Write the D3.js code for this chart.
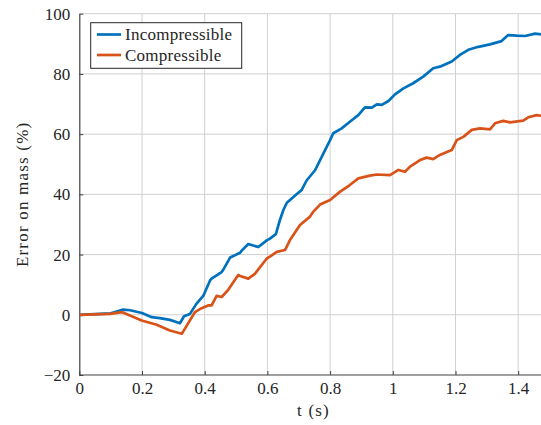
<!DOCTYPE html>
<html>
<head>
<meta charset="utf-8">
<script src="https://cdn.jsdelivr.net/npm/d3@7"></script>
<style>
  html, body { margin: 0; padding: 0; background: #fff; }
  svg { display: block; }
</style>
</head>
<body>
<svg id="chart" width="541" height="425"></svg>
<script>
// Time stamps (s) and mass error (%) for each model
const tIncompressible = [0, 0.1, 0.114, 0.14, 0.162, 0.2, 0.231, 0.257, 0.289, 0.321, 0.334, 0.353,
  0.374, 0.396, 0.417, 0.422, 0.454, 0.459, 0.481, 0.513, 0.518, 0.539, 0.571, 0.598, 0.608, 0.627,
  0.64, 0.651, 0.662, 0.693, 0.709, 0.725, 0.752, 0.784, 0.8, 0.81, 0.837, 0.863, 0.89, 0.911, 0.933,
  0.949, 0.965, 0.986, 1.007, 1.034, 1.065, 1.097, 1.129, 1.15, 1.188, 1.214, 1.241, 1.273, 1.31,
  1.347, 1.368, 1.395, 1.422, 1.454, 1.48];
const incompressible = [0, 0.5, 0.9, 1.7, 1.5, 0.6, -0.8, -1.1, -1.7, -2.8, -0.5, 0.3,
  3.7, 6.4, 11.4, 12.0, 14.2, 14.9, 19.0, 20.6, 21.3, 23.5, 22.5, 24.7, 25.3, 26.8,
  31.5, 34.8, 37.2, 40.0, 41.4, 44.6, 48.0, 54.7, 58.0, 60.3, 61.9, 64.1, 66.3, 68.9, 68.8,
  69.9, 69.7, 71.0, 73.2, 75.2, 76.9, 79.1, 81.9, 82.4, 84.1, 86.3, 88.0, 89.0, 89.8,
  90.9, 92.9, 92.7, 92.6, 93.4, 93.0];

const tCompressible = [0, 0.098, 0.135, 0.156, 0.199, 0.247, 0.289, 0.327, 0.337, 0.369, 0.39,
  0.411, 0.422, 0.438, 0.454, 0.475, 0.507, 0.513, 0.539, 0.56, 0.598, 0.608, 0.63, 0.656, 0.672,
  0.704, 0.736, 0.746, 0.768, 0.8, 0.832, 0.863, 0.89, 0.927, 0.949, 0.991, 1.018, 1.039, 1.055,
  1.087, 1.108, 1.129, 1.15, 1.188, 1.204, 1.225, 1.252, 1.278, 1.31, 1.326, 1.352, 1.374, 1.416,
  1.432, 1.459, 1.48];
const compressible = [0, 0.3, 0.9, 0, -1.9, -3.3, -5.2, -6.3, -4.6, 0.9, 2.2,
  3.1, 3.1, 6.3, 5.9, 8.3, 13.2, 12.9, 12.0, 13.6, 18.7, 19.3, 20.9, 21.5, 24.8,
  29.8, 32.6, 34.2, 36.6, 38.1, 40.9, 43.1, 45.3, 46.2, 46.6, 46.4, 48.1, 47.5, 49.2,
  51.4, 52.2, 51.7, 53.1, 54.7, 58.0, 59.1, 61.4, 61.9, 61.6, 63.6, 64.4, 63.9, 64.5,
  65.6, 66.3, 66.0];

const xTicks = [0, 0.2, 0.4, 0.6, 0.8, 1, 1.2, 1.4];
const xTickLabels = ["0", "0.2", "0.4", "0.6", "0.8", "1", "1.2", "1.4"];
const yTicks = [-20, 0, 20, 40, 60, 80, 100];
const yTickLabels = ["\u221220", "0", "20", "40", "60", "80", "100"];

const seriesNames = ["Incompressible", "Compressible"];
const seriesColors = ["#0072BD", "#D95319"];

const FONT = "'Liberation Serif', 'Times New Roman', serif";
const TEXT_COLOR = "#262626";

const svg = d3.select("#chart");
const plotLeft = 79.3, plotTop = 13.7, plotBottom = 375, plotRight = 541;
const x = d3.scaleLinear().domain([0, 1.5]).range([plotLeft, plotLeft + 313.5 * 1.5]);
const y = d3.scaleLinear().domain([-20, 100]).range([plotBottom, plotTop]);

// clip region for the plot area
svg.append("clipPath").attr("id", "plotClip")
  .append("rect").attr("x", plotLeft).attr("y", plotTop - 2)
  .attr("width", plotRight - plotLeft).attr("height", plotBottom - plotTop + 4);

// grid
const grid = svg.append("g");
grid.selectAll("line.gx").data(xTicks.filter(d => d > 0)).enter().append("line")
  .attr("x1", d => x(d)).attr("x2", d => x(d)).attr("y1", plotTop).attr("y2", plotBottom)
  .attr("stroke", "#d0d0d0").attr("stroke-width", 1);
grid.selectAll("line.gy").data(yTicks.filter(d => d > -20)).enter().append("line")
  .attr("x1", plotLeft).attr("x2", plotRight).attr("y1", d => y(d)).attr("y2", d => y(d))
  .attr("stroke", "#d0d0d0").attr("stroke-width", 1);

// axes
const xAxis = d3.axisBottom(x).tickValues(xTicks).tickSizeInner(-4).tickSizeOuter(0)
  .tickPadding(10).tickFormat((d, i) => xTickLabels[i]);
const gx = svg.append("g").attr("transform", `translate(0,${plotBottom})`).call(xAxis);
gx.select(".domain").attr("d", `M${plotLeft},0H${plotRight}`);

const yAxis = d3.axisLeft(y).tickValues(yTicks).tickSizeInner(-4).tickSizeOuter(0)
  .tickPadding(9).tickFormat((d, i) => yTickLabels[i]);
const gy = svg.append("g").attr("transform", `translate(${plotLeft},0)`).call(yAxis);

[gx, gy].forEach(g => {
  g.select(".domain").attr("stroke", "#404040").attr("stroke-width", 1.2);
  g.selectAll(".tick line").attr("stroke", "#404040");
  g.selectAll(".tick text").style("font-family", FONT)
    .style("font-size", "17px").style("fill", TEXT_COLOR);
});
gx.selectAll(".tick text").attr("dy", "0.5em");

// lines
const line = d3.line().x(d => x(d[0])).y(d => y(d[1]));
const plot = svg.append("g").attr("clip-path", "url(#plotClip)");
const seriesData = [
  d3.zip(tIncompressible, incompressible),
  d3.zip(tCompressible, compressible)
];
seriesData.forEach((data, i) => {
  plot.append("path").datum(data).attr("d", line)
    .attr("fill", "none").attr("stroke", seriesColors[i])
    .attr("stroke-width", 2.7).attr("stroke-linejoin", "round");
});

// axis titles
svg.append("text").attr("x", 313.5).attr("y", 416)
  .attr("text-anchor", "middle")
  .style("font-family", FONT).style("font-size", "17px").style("fill", TEXT_COLOR)
  .attr("letter-spacing", 1.2).text("t (s)");
svg.append("text").attr("transform", `translate(28,${(plotTop + plotBottom) / 2}) rotate(-90)`)
  .attr("text-anchor", "middle")
  .style("font-family", FONT).style("font-size", "17px").style("fill", TEXT_COLOR)
  .attr("letter-spacing", 1.2).text("Error on mass (%)");

// legend
const lg = svg.append("g");
lg.append("rect").attr("x", 90.7).attr("y", 22.7).attr("width", 151).attr("height", 45.6)
  .attr("fill", "#fff").attr("stroke", TEXT_COLOR).attr("stroke-width", 1);
seriesNames.forEach((name, i) => {
  const ly = 34.5 + i * 20.5;
  lg.append("line").attr("x1", 97).attr("x2", 121).attr("y1", ly).attr("y2", ly)
    .attr("stroke", seriesColors[i]).attr("stroke-width", 2.7);
  lg.append("text").attr("x", 125).attr("y", ly + 5.5)
    .style("font-family", FONT).style("font-size", "17px").style("fill", TEXT_COLOR)
    .attr("letter-spacing", 0.25).text(name);
});
</script>
</body>
</html>
